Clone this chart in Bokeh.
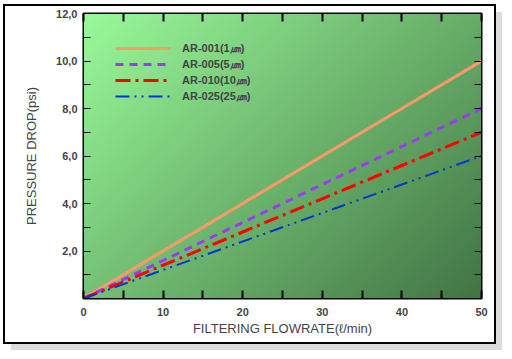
import numpy as np
from bokeh.plotting import figure
from bokeh.models import Range1d, FixedTicker, LinearAxis, Legend
from bokeh.embed import file_html
from bokeh.resources import INLINE

# ---- data ----
flow = [0, 10, 20, 30, 40, 50]
ar001 = [0.0, 2.0, 4.0, 6.0, 8.0, 10.0]
ar005 = [0.0, 1.6, 3.2, 4.8, 6.4, 8.0]
ar010 = [0.0, 1.4, 2.8, 4.2, 5.6, 7.0]
ar025 = [0.0, 1.2, 2.4, 3.6, 4.8, 6.0]
series_names = ["AR-001(1㎛)", "AR-005(5㎛)", "AR-010(10㎛)", "AR-025(25㎛)"]
x_major = [0, 10, 20, 30, 40, 50]
x_minor = [5, 15, 25, 35, 45]
y_major = [0, 2, 4, 6, 8, 10, 12]
y_minor = [1, 3, 5, 7, 9, 11]
y_labels = {2: "2,0", 4: "4,0", 6: "6,0", 8: "8,0", 10: "10,0", 12: "12,0"}

FONT = "Liberation Sans"

p = figure(width=493, height=340, output_backend="svg", toolbar_location=None,
           x_range=Range1d(0, 50), y_range=Range1d(0, 12),
           min_border_left=78, min_border_right=17, min_border_top=7, min_border_bottom=48,
           background_fill_color="#78b878", border_fill_color="white")
p.styles = {"margin-left": "3px", "margin-top": "4px",
            "border": "2px solid black",
            "box-shadow": "7px 7px 0 -1px #dcdcdc"}
p.grid.visible = False
p.outline_line_color = "black"
p.outline_line_width = 2

# gradient background
H, W = 150, 210
yy, xx = np.mgrid[0:H, 0:W]
u = xx / (W - 1)
v = 1 - yy / (H - 1)
t = (u * 398 + v * 285) / (398 + 285)
c0 = np.array([154, 250, 154])
c1 = np.array([66, 116, 68])
img = np.empty((H, W), dtype=np.uint32)
view = img.view(dtype=np.uint8).reshape((H, W, 4))
for k in range(3):
    view[..., k] = (c0[k] + (c1[k] - c0[k]) * t).astype(np.uint8)
view[..., 3] = 255
p.image_rgba(image=[img], x=0, y=0, dw=50, dh=12)

r1 = p.line(flow, ar001, line_color="#ff9966", line_width=3)
r2 = p.line(flow, ar005, line_color="#9a3cf6", line_width=3, line_dash="8 6")
r3 = p.line(flow, ar010, line_color="#ff0000", line_width=3, line_dash="15 5 3 5")
r4 = p.line(flow, ar025, line_color="#0038d0", line_width=2, line_dash="14 5 2 5 2 5")

xt = FixedTicker(ticks=x_major, minor_ticks=x_minor)
yt = FixedTicker(ticks=y_major, minor_ticks=y_minor)

def style_x(ax):
    ax.ticker = xt
    ax.major_tick_in = 8
    ax.major_tick_out = 0
    ax.minor_tick_in = 8
    ax.minor_tick_out = 0
    ax.major_tick_line_width = 2
    ax.minor_tick_line_width = 2
    ax.axis_line_width = 1

def style_y(ax):
    ax.ticker = yt
    ax.major_tick_in = 7
    ax.major_tick_out = 0
    ax.minor_tick_in = 7
    ax.minor_tick_out = 0
    ax.major_tick_line_width = 1
    ax.minor_tick_line_width = 1
    ax.axis_line_width = 1

xa = p.xaxis[0]
style_x(xa)
xa.major_label_text_font = FONT
xa.major_label_text_font_style = "bold"
xa.major_label_text_font_size = "11px"
xa.major_label_standoff = 9
xa.axis_label = "FILTERING FLOWRATE(ℓ/min)"
xa.axis_label_text_font = FONT
xa.axis_label_text_font_style = "normal"
xa.axis_label_text_font_size = "13px"
xa.axis_label_standoff = 2

ya = p.yaxis[0]
style_y(ya)
ya.ticker = FixedTicker(ticks=y_major[1:], minor_ticks=y_minor)
ya.major_label_overrides = y_labels
ya.major_label_text_font = FONT
ya.major_label_text_font_style = "bold"
ya.major_label_text_font_size = "11px"
ya.major_label_standoff = 6
ya.axis_label = "PRESSURE DROP(psi)"
ya.axis_label_text_font = FONT
ya.axis_label_text_font_style = "normal"
ya.axis_label_text_font_size = "13px"
ya.axis_label_standoff = 14

top = LinearAxis()
style_x(top)
top.major_label_text_color = None
top.major_label_text_font_size = "1px"
top.major_label_standoff = 0
p.add_layout(top, "above")

right = LinearAxis()
style_y(right)
right.major_label_text_color = None
right.major_label_text_font_size = "1px"
right.major_label_standoff = 0
p.add_layout(right, "right")

legend = Legend(items=[(series_names[0], [r1]), (series_names[1], [r2]),
                       (series_names[2], [r3]), (series_names[3], [r4])],
                location=(32, 194), padding=0, margin=0, spacing=0,
                glyph_width=56, glyph_height=16, label_height=16, label_standoff=11,
                background_fill_alpha=0, border_line_alpha=0,
                label_text_font=FONT, label_text_font_style="bold",
                label_text_font_size="11px")
p.add_layout(legend, "center")

open("out.html", "w").write(file_html(p, INLINE))
